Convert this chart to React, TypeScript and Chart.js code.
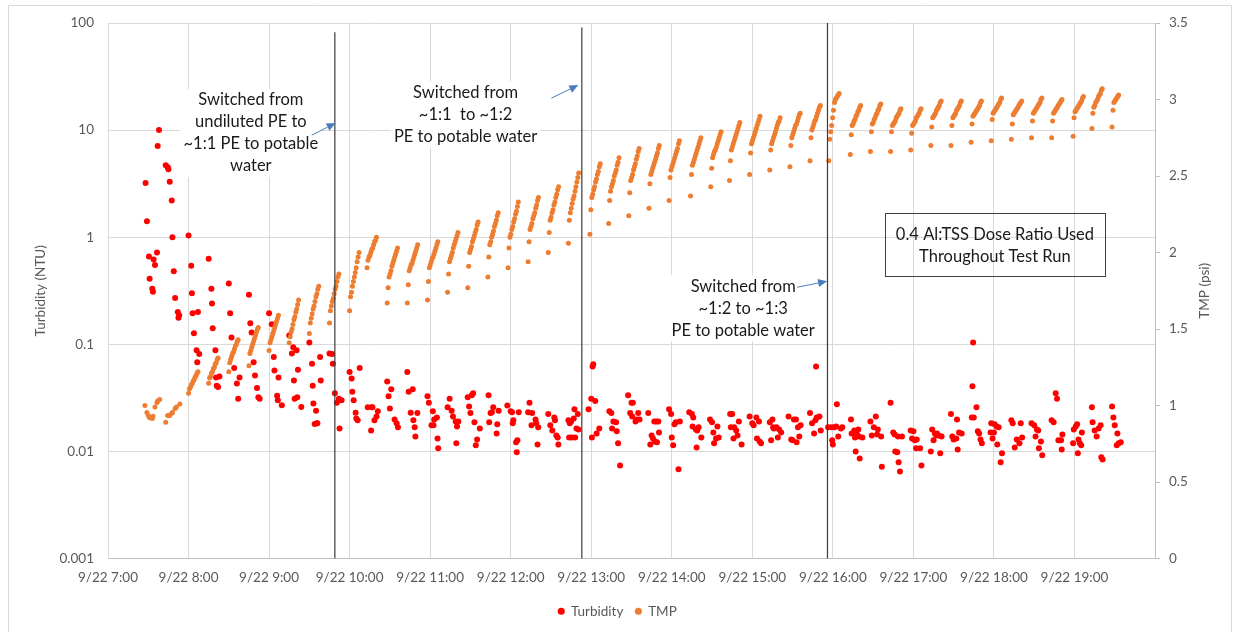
import { useEffect, useRef } from 'react';
import { Chart, registerables } from 'chart.js';

Chart.register(...registerables);

const FONT = 'Lato, "Open Sans", sans-serif';

// ---------- axes ----------
// x values are minutes of the day (9/22)
const xTickValues = [420, 480, 540, 600, 660, 720, 780, 840, 900, 960, 1020, 1080, 1140, 1200];
const xTickLabels = ['9/22 7:00', '9/22 8:00', '9/22 9:00', '9/22 10:00', '9/22 11:00', '9/22 12:00', '9/22 13:00', '9/22 14:00', '9/22 15:00', '9/22 16:00', '9/22 17:00', '9/22 18:00', '9/22 19:00', ''];
const turbTickValues = [0.001, 0.01, 0.1, 1, 10, 100];
const turbTickLabels = ['0.001', '0.01', '0.1', '1', '10', '100'];
const tmpTickValues = [0, 0.5, 1, 1.5, 2, 2.5, 3, 3.5];
const tmpTickLabels = ['0', '0.5', '1', '1.5', '2', '2.5', '3', '3.5'];

// ---------- Turbidity (NTU) ----------
const turbTime = [
  448, 449, 450.5, 451, 453, 453.5, 454, 455, 456.5, 457, 458, 463, 464.5, 465, 466, 467.5, 468, 469, 470, 472, 472.5, 473,
  480, 482, 482.5, 483, 484, 486, 486.5, 487, 488, 495, 497, 497.5, 498, 500, 500.5, 501, 502, 503,
  510, 511, 512, 514, 516, 517, 518, 525, 526, 527, 528.5, 529.5, 531, 532, 533,
  540, 542, 543.5, 544, 546, 546.5, 547, 549.5, 555, 557, 558, 558.5, 559, 560.5, 561, 561.5, 564,
  570, 572, 572.5, 573, 574, 575, 575.5, 576, 578, 578.5, 585, 587, 587.5, 589, 590.5, 592, 592.5, 594,
  600, 601.5, 602, 603, 604.5, 605, 606, 607.5, 613.5, 616.5, 616, 617, 618.5, 620, 621,
  628, 629, 630, 631, 633.5, 635, 636, 643, 644, 645.5, 647, 647.5, 648.5, 649, 650.5,
  658, 659, 661, 662, 662.5, 663, 665, 665.5, 666, 673, 674.5, 676, 677, 679, 679.5, 680, 681,
  688, 689, 690, 691, 692, 693, 694, 695, 697, 703.5, 704, 705, 706, 707, 709.5, 710, 711,
  717.5, 720, 721, 721.5, 722, 724, 724.5, 725, 726, 733, 734, 735.5, 736, 738.5, 739, 740, 740.5,
  748, 749.5, 751, 752.5, 753, 754, 755, 755.5, 763, 763.5, 764, 765, 765.5, 767, 767.5, 768, 769, 770, 770.5,
  778, 780, 780.5, 781, 781.5, 783, 784, 786, 793.5, 795, 795.5, 796.5, 798.5, 799, 800, 801.5,
  807.5, 809, 810, 810.5, 811, 813, 814, 815, 816, 822.5, 824, 825, 826, 827, 827.5, 828.5, 829, 830, 830.5,
  838, 839.5, 840, 841, 842, 843, 845, 846, 853, 855, 855.5, 856, 858, 858.5, 859, 860, 862,
  868.5, 870, 871, 871.5, 873, 874, 875, 883.5, 884, 885, 886, 886.5, 888, 889, 890, 892,
  898, 900, 901, 903, 903.5, 905, 905.5, 906.5, 913, 914, 915, 915.5, 916, 918, 919, 920, 921.5,
  927, 929, 930, 931, 932.5, 933, 934, 935, 936, 943, 944.5, 946, 947, 947.5, 948, 950, 951,
  956.5, 959, 959.5, 960, 961, 962.5, 963, 964, 966, 967, 973.5, 974, 976, 976.5, 977, 978, 979, 979.5, 980, 982,
  988, 989, 990.5, 992, 993, 993.5, 996, 996.5, 1003, 1005, 1006, 1006.5, 1008, 1008.5, 1009, 1010, 1011.5,
  1018, 1019, 1020, 1021, 1022, 1022.5, 1025, 1026, 1033, 1034, 1035, 1036, 1037, 1037.5, 1039, 1040, 1041,
  1048, 1049, 1050, 1052, 1052.5, 1053, 1054, 1056, 1063.5, 1064, 1064.5, 1065, 1067, 1068, 1069, 1070, 1071,
  1077.5, 1078, 1079, 1080, 1080.5, 1082, 1082.5, 1083.5, 1085, 1086, 1093, 1094, 1095.5, 1097, 1099, 1100, 1101,
  1108, 1110, 1111, 1112, 1113, 1113.5, 1115, 1116, 1123, 1124.5, 1126, 1127, 1128, 1130, 1130.5, 1131,
  1139, 1139.5, 1141, 1142, 1142.5, 1143, 1144, 1145, 1145.5, 1153, 1153.5, 1155, 1156.5, 1158, 1159.5, 1160, 1161,
  1168, 1169, 1170, 1171.5, 1172, 1173, 1174.5,
];
const turbValue = [
  3.2, 1.41, 0.66, 0.41, 0.33, 0.31, 0.62, 0.55, 0.72, 7.1, 10.0, 4.7, 4.5, 4.3, 3.3, 2.2, 1.0, 0.48, 0.27, 0.2, 0.177, 0.187,
  1.04, 0.54, 0.30, 0.195, 0.127, 0.088, 0.068, 0.2, 0.081, 0.63, 0.33, 0.24, 0.141, 0.088, 0.049, 0.041, 0.040, 0.050,
  0.37, 0.195, 0.116, 0.060, 0.043, 0.031, 0.049, 0.29, 0.157, 0.129, 0.068, 0.051, 0.039, 0.032, 0.031,
  0.195, 0.154, 0.076, 0.057, 0.033, 0.030, 0.049, 0.027, 0.121, 0.082, 0.094, 0.046, 0.031, 0.088, 0.032, 0.058, 0.026,
  0.104, 0.066, 0.041, 0.028, 0.018, 0.024, 0.0183, 0.0183, 0.076, 0.046, 0.082, 0.081, 0.066, 0.035, 0.0285, 0.031, 0.0164, 0.030,
  0.055, 0.048, 0.036, 0.030, 0.023, 0.0203, 0.0195, 0.060, 0.0258, 0.0258, 0.0157, 0.0258, 0.0195, 0.0212, 0.0237,
  0.045, 0.0327, 0.0252, 0.038, 0.0199, 0.0183, 0.0168, 0.055, 0.036, 0.023, 0.038, 0.0195, 0.0168, 0.0138, 0.0228,
  0.0327, 0.0285, 0.0175, 0.0237, 0.0175, 0.0199, 0.0207, 0.0132, 0.0107, 0.0258, 0.031, 0.024, 0.0212, 0.019, 0.0119, 0.0171, 0.019,
  0.032, 0.0263, 0.0228, 0.0334, 0.035, 0.0187, 0.0114, 0.0129, 0.0164, 0.0334, 0.0187, 0.0228, 0.0232, 0.0258, 0.0147, 0.0179, 0.024,
  0.0268, 0.0237, 0.0232, 0.0183, 0.0195, 0.0122, 0.0098, 0.0127, 0.0232, 0.0232, 0.0285, 0.0175, 0.0228, 0.0199, 0.0183, 0.0116, 0.0168,
  0.0223, 0.0175, 0.0157, 0.0207, 0.0195, 0.0141, 0.0135, 0.0116, 0.0195, 0.0135, 0.0183, 0.019, 0.0135, 0.0203, 0.0247, 0.0135, 0.0164, 0.0223, 0.016,
  0.0247, 0.031, 0.0135, 0.0622, 0.065, 0.0296, 0.0147, 0.0164, 0.0237, 0.0228, 0.0164, 0.019, 0.0187, 0.0154, 0.0119, 0.0074,
  0.0334, 0.0228, 0.0285, 0.0212, 0.0285, 0.019, 0.0199, 0.0228, 0.0199, 0.0228, 0.0116, 0.0141, 0.0132, 0.019, 0.0124, 0.019, 0.0122, 0.019, 0.0150,
  0.0247, 0.0223, 0.0135, 0.0114, 0.0179, 0.0187, 0.0068, 0.019, 0.0232, 0.0223, 0.0171, 0.0207, 0.016, 0.0109, 0.0157, 0.0168, 0.0135,
  0.0199, 0.0187, 0.015, 0.0119, 0.0132, 0.0171, 0.0135, 0.0223, 0.0168, 0.0223, 0.0132, 0.0168, 0.0157, 0.0141, 0.019, 0.0116,
  0.0212, 0.0183, 0.0175, 0.0207, 0.0132, 0.019, 0.0124, 0.0119, 0.0187, 0.0127, 0.0199, 0.0168, 0.0164, 0.0168, 0.0135, 0.016, 0.015,
  0.0212, 0.0129, 0.0127, 0.0199, 0.0199, 0.0122, 0.0168, 0.0138, 0.0175, 0.0228, 0.0183, 0.0147, 0.0195, 0.0622, 0.0207, 0.0212, 0.0157,
  0.0168, 0.0168, 0.0127, 0.0116, 0.0168, 0.0171, 0.0275, 0.0138, 0.0164, 0.0168, 0.0199, 0.0147, 0.0157, 0.0135, 0.010, 0.0144, 0.016, 0.0138, 0.0086, 0.0135,
  0.019, 0.0141, 0.0168, 0.0212, 0.0144, 0.016, 0.0138, 0.0072, 0.0285, 0.015, 0.0144, 0.010, 0.0098, 0.0138, 0.0079, 0.0065, 0.0138,
  0.0157, 0.0132, 0.0154, 0.0127, 0.0107, 0.0129, 0.0107, 0.0074, 0.010, 0.016, 0.0127, 0.0147, 0.0141, 0.0147, 0.0141, 0.0096, 0.0138,
  0.0223, 0.0138, 0.0129, 0.0132, 0.0199, 0.0104, 0.015, 0.0147, 0.0207, 0.0405, 0.104, 0.0207, 0.0258, 0.0154, 0.0147, 0.0129, 0.0119,
  0.015, 0.0183, 0.0132, 0.015, 0.0179, 0.0171, 0.0116, 0.0168, 0.0079, 0.0096, 0.0195, 0.0183, 0.0109, 0.0129, 0.0119, 0.0183, 0.0135,
  0.0183, 0.0175, 0.0138, 0.016, 0.0157, 0.0107, 0.0124, 0.0092, 0.0195, 0.0187, 0.035, 0.031, 0.0127, 0.0127, 0.0104, 0.0144,
  0.0119, 0.016, 0.0171, 0.0179, 0.0096, 0.0129, 0.0119, 0.0114, 0.015, 0.0258, 0.0187, 0.0157, 0.0138, 0.0164, 0.0175, 0.0088, 0.0084,
  0.0263, 0.0207, 0.0175, 0.0114, 0.0147, 0.0119, 0.0122,
];

// ---------- TMP (psi) ----------
// readings before the first filtration cycle
const tmpEarlyTime = [447.5, 449, 450, 451, 453, 453.5, 455, 456.5, 457, 458.5, 463, 464.5, 466, 467.5, 468, 470, 471, 473.5];
const tmpEarlyValue = [1.0, 0.955, 0.935, 0.92, 0.915, 0.93, 0.99, 1.02, 1.03, 1.04, 0.89, 0.935, 0.935, 0.95, 0.955, 0.98, 0.99, 1.01];
// filtration cycles: start minute and the readings logged in that cycle (one every TMP_SAMPLE_MIN)
const TMP_SAMPLE_MIN = 0.7;
const tmpCycleStart = [
  480, 495, 510, 525, 540, 555, 570, 585, 600, 613, 628, 643, 658, 673, 688, 703, 718, 733, 748, 763, 779, 793, 808, 823,
  838, 854, 869, 883, 898, 913, 928, 943, 957, 973, 988, 1003, 1018, 1033, 1048, 1063, 1078, 1093, 1108, 1123, 1139, 1153, 1168,
];
const tmpCycleValues = [
  [1.08, 1.11, 1.12, 1.135, 1.145, 1.16, 1.17, 1.185, 1.195, 1.21, 1.22],
  [1.145, 1.18, 1.19, 1.21, 1.22, 1.24, 1.25, 1.27, 1.28, 1.3, 1.31],
  [1.22, 1.28, 1.3, 1.32, 1.34, 1.35, 1.37, 1.39, 1.4, 1.42, 1.43],
  [1.26, 1.34, 1.36, 1.38, 1.4, 1.42, 1.44, 1.46, 1.48, 1.5, 1.51],
  [1.36, 1.41, 1.43, 1.45, 1.47, 1.49, 1.51, 1.53, 1.55, 1.57, 1.59],
  [1.41, 1.45, 1.48, 1.5, 1.53, 1.56, 1.58, 1.61, 1.63, 1.66, 1.69],
  [1.47, 1.54, 1.57, 1.6, 1.63, 1.65, 1.68, 1.71, 1.73, 1.76, 1.78],
  [1.54, 1.62, 1.65, 1.68, 1.7, 1.73, 1.76, 1.78, 1.81, 1.84, 1.86],
  [1.62, 1.71, 1.74, 1.78, 1.81, 1.84, 1.87, 1.9, 1.94, 1.97, 2.0],
  [1.9, 1.95, 1.97, 1.98, 2.0, 2.02, 2.03, 2.05, 2.07, 2.08, 2.1],
  [1.67, 1.77, 1.84, 1.86, 1.88, 1.91, 1.93, 1.95, 1.97, 1.99, 2.01, 2.03],
  [1.67, 1.79, 1.88, 1.9, 1.92, 1.93, 1.95, 1.97, 1.99, 2.01, 2.03, 2.05],
  [1.69, 1.81, 1.9, 1.92, 1.94, 1.96, 1.97, 1.99, 2.01, 2.03, 2.05, 2.07],
  [1.74, 1.86, 1.94, 1.96, 1.98, 2.0, 2.03, 2.05, 2.07, 2.09, 2.11, 2.13],
  [1.77, 1.91, 2.0, 2.02, 2.04, 2.07, 2.09, 2.11, 2.13, 2.15, 2.18, 2.2],
  [1.84, 1.97, 2.05, 2.07, 2.1, 2.12, 2.14, 2.17, 2.19, 2.21, 2.24, 2.26],
  [1.9, 2.03, 2.1, 2.12, 2.15, 2.17, 2.2, 2.22, 2.25, 2.27, 2.3, 2.33],
  [1.94, 2.07, 2.15, 2.17, 2.19, 2.22, 2.24, 2.26, 2.29, 2.31, 2.34, 2.36],
  [2.0, 2.13, 2.21, 2.23, 2.26, 2.28, 2.31, 2.33, 2.36, 2.38, 2.41, 2.43],
  [2.06, 2.21, 2.26, 2.29, 2.32, 2.35, 2.37, 2.4, 2.43, 2.46, 2.49, 2.52],
  [2.12, 2.28, 2.36, 2.38, 2.41, 2.43, 2.46, 2.48, 2.51, 2.53, 2.56, 2.58],
  [2.19, 2.34, 2.4, 2.43, 2.45, 2.47, 2.5, 2.52, 2.54, 2.57, 2.59, 2.62],
  [2.24, 2.39, 2.47, 2.49, 2.51, 2.54, 2.56, 2.58, 2.61, 2.63, 2.66, 2.68],
  [2.29, 2.45, 2.51, 2.53, 2.55, 2.57, 2.59, 2.61, 2.63, 2.65, 2.68, 2.7],
  [2.34, 2.49, 2.54, 2.56, 2.58, 2.6, 2.62, 2.64, 2.66, 2.68, 2.71, 2.73],
  [2.37, 2.51, 2.57, 2.59, 2.61, 2.63, 2.65, 2.67, 2.69, 2.71, 2.73, 2.75],
  [2.43, 2.55, 2.62, 2.64, 2.66, 2.67, 2.69, 2.71, 2.73, 2.75, 2.77, 2.79],
  [2.47, 2.6, 2.67, 2.69, 2.71, 2.73, 2.75, 2.77, 2.79, 2.81, 2.83, 2.85],
  [2.51, 2.65, 2.71, 2.73, 2.75, 2.77, 2.79, 2.81, 2.83, 2.85, 2.87, 2.89],
  [2.54, 2.67, 2.71, 2.73, 2.75, 2.77, 2.79, 2.81, 2.83, 2.85, 2.86, 2.88],
  [2.56, 2.7, 2.75, 2.77, 2.79, 2.81, 2.83, 2.84, 2.86, 2.88, 2.9, 2.91],
  [2.6, 2.75, 2.8, 2.82, 2.84, 2.86, 2.87, 2.89, 2.91, 2.93, 2.95, 2.96],
  [2.6, 2.74, 2.79, 2.83, 2.88, 2.93, 2.98, 3.0, 3.01, 3.02, 3.03, 3.04],
  [2.64, 2.77, 2.83, 2.84, 2.86, 2.87, 2.89, 2.9, 2.92, 2.93, 2.95, 2.96],
  [2.66, 2.79, 2.84, 2.85, 2.87, 2.88, 2.9, 2.91, 2.93, 2.94, 2.96, 2.97],
  [2.66, 2.79, 2.83, 2.84, 2.85, 2.86, 2.88, 2.89, 2.9, 2.91, 2.93, 2.94],
  [2.67, 2.78, 2.83, 2.84, 2.85, 2.86, 2.88, 2.89, 2.9, 2.91, 2.93, 2.94],
  [2.7, 2.82, 2.88, 2.89, 2.9, 2.91, 2.93, 2.94, 2.95, 2.96, 2.98, 2.99],
  [2.7, 2.83, 2.88, 2.89, 2.9, 2.91, 2.93, 2.94, 2.95, 2.96, 2.98, 2.99],
  [2.72, 2.84, 2.89, 2.9, 2.91, 2.92, 2.93, 2.94, 2.95, 2.96, 2.98, 2.99],
  [2.73, 2.87, 2.91, 2.92, 2.93, 2.94, 2.95, 2.96, 2.97, 2.98, 3.0, 3.01],
  [2.74, 2.84, 2.9, 2.91, 2.92, 2.93, 2.94, 2.95, 2.96, 2.97, 2.98, 2.99],
  [2.75, 2.86, 2.91, 2.92, 2.93, 2.94, 2.95, 2.96, 2.97, 2.98, 3.0, 3.01],
  [2.75, 2.86, 2.91, 2.92, 2.93, 2.94, 2.95, 2.96, 2.97, 2.98, 2.99, 3.0],
  [2.76, 2.88, 2.92, 2.93, 2.94, 2.95, 2.96, 2.97, 2.98, 2.99, 3.01, 3.02],
  [2.81, 2.91, 2.95, 2.96, 2.98, 2.99, 3.0, 3.02, 3.03, 3.04, 3.06, 3.07],
  [2.82, 2.93, 2.98, 2.99, 3.0, 3.01, 3.02, 3.03],
];

// ---------- feed dilution switches (vertical lines, TMP axis units) ----------
const switchTimes = [589, 773, 956];
const switchTops = [3.44, 3.47, 3.5];

// ---------- annotations (data coordinates: minute of day, psi) ----------
const annotationTexts = [
  { x: 526.4, y: 2.996, lines: ['Switched from', 'undiluted PE to', '~1:1 PE to potable', 'water'] },
  { x: 686.4, y: 3.047, lines: ['Switched from', '~1:1  to ~1:2', 'PE to potable water'] },
  { x: 893.2, y: 1.779, lines: ['Switched from', '~1:2 to ~1:3', 'PE to potable water'] },
];
const noteBox = { x1: 998.8, x2: 1162.7, y1: 2.255, y2: 1.84, lines: ['0.4 Al:TSS Dose Ratio Used', 'Throughout Test Run'] };
const arrows = [
  { from: [571.8, 2.767], to: [589.6, 2.846] },
  { from: [750.3, 3.009], to: [770.4, 3.094] },
  { from: [933.4, 1.773], to: [955.7, 1.812] },
];

const ANN_FONT = `16.5px ${FONT}`;
const ANN_LINE = 22;

const extrasPlugin = {
  id: 'extras',
  beforeDraw(chart: any) {
    const { ctx, width, height } = chart;
    ctx.save();
    ctx.fillStyle = '#ffffff';
    ctx.fillRect(0, 0, width, height);
    ctx.strokeStyle = '#d9d9d9';
    ctx.lineWidth = 1;
    ctx.beginPath();
    ctx.moveTo(8.5, height);
    ctx.lineTo(8.5, 5.5);
    ctx.lineTo(1231.5, 5.5);
    ctx.lineTo(1231.5, height);
    ctx.stroke();
    ctx.restore();
  },
  beforeDatasetsDraw(chart: any) {
    const { ctx } = chart;
    const xs = chart.scales.x;
    const ys = chart.scales.y1;
    ctx.save();
    ctx.font = ANN_FONT;
    ctx.fillStyle = '#ffffff';
    annotationTexts.forEach((a) => {
      const cx = xs.getPixelForValue(a.x);
      const cy = ys.getPixelForValue(a.y);
      const w = Math.max(...a.lines.map((l) => ctx.measureText(l).width));
      ctx.fillRect(cx - w / 2 - 3, cy - ANN_LINE / 2, w + 6, ANN_LINE * a.lines.length);
    });
    ctx.restore();
  },
  afterDatasetsDraw(chart: any) {
    const { ctx } = chart;
    const xs = chart.scales.x;
    const ys = chart.scales.y1;
    ctx.save();
    ctx.font = ANN_FONT;
    ctx.fillStyle = '#1a1a1a';
    ctx.textAlign = 'center';
    ctx.textBaseline = 'middle';
    annotationTexts.forEach((a) => {
      const cx = xs.getPixelForValue(a.x);
      const cy = ys.getPixelForValue(a.y);
      a.lines.forEach((l, i) => ctx.fillText(l, cx, cy + i * ANN_LINE));
    });
    // note box
    const bx1 = xs.getPixelForValue(noteBox.x1);
    const bx2 = xs.getPixelForValue(noteBox.x2);
    const by1 = ys.getPixelForValue(noteBox.y1);
    const by2 = ys.getPixelForValue(noteBox.y2);
    ctx.strokeStyle = '#404040';
    ctx.lineWidth = 1;
    ctx.strokeRect(Math.round(bx1) + 0.5, Math.round(by1) + 0.5, Math.round(bx2 - bx1), Math.round(by2 - by1));
    const bcx = (bx1 + bx2) / 2;
    const bcy = (by1 + by2) / 2;
    noteBox.lines.forEach((l, i) => ctx.fillText(l, bcx, bcy + (i - (noteBox.lines.length - 1) / 2) * ANN_LINE));
    // arrows
    ctx.strokeStyle = '#4a7ebb';
    ctx.fillStyle = '#4a7ebb';
    arrows.forEach((a) => {
      const x0 = xs.getPixelForValue(a.from[0]);
      const y0 = ys.getPixelForValue(a.from[1]);
      const x1 = xs.getPixelForValue(a.to[0]);
      const y1 = ys.getPixelForValue(a.to[1]);
      const ang = Math.atan2(y1 - y0, x1 - x0);
      const L = 9;
      const W = 4;
      const bx = x1 - L * Math.cos(ang);
      const by = y1 - L * Math.sin(ang);
      ctx.beginPath();
      ctx.moveTo(x0, y0);
      ctx.lineTo(bx, by);
      ctx.lineWidth = 1;
      ctx.stroke();
      ctx.beginPath();
      ctx.moveTo(x1, y1);
      ctx.lineTo(bx + W * Math.sin(ang), by - W * Math.cos(ang));
      ctx.lineTo(bx - W * Math.sin(ang), by + W * Math.cos(ang));
      ctx.closePath();
      ctx.fill();
    });
    ctx.restore();
  },
  afterDraw(chart: any) {
    const { ctx, chartArea } = chart;
    const midY = (chartArea.top + chartArea.bottom) / 2;
    ctx.save();
    ctx.font = `13.5px ${FONT}`;
    ctx.fillStyle = '#595959';
    ctx.textAlign = 'center';
    ctx.textBaseline = 'middle';
    ctx.translate(41, midY);
    ctx.rotate(-Math.PI / 2);
    ctx.fillText('Turbidity (NTU)', 0, 0);
    ctx.restore();
    ctx.save();
    ctx.font = `13.5px ${FONT}`;
    ctx.fillStyle = '#595959';
    ctx.textAlign = 'center';
    ctx.textBaseline = 'middle';
    ctx.translate(1205, midY);
    ctx.rotate(-Math.PI / 2);
    ctx.fillText('TMP (psi)', 0, 0);
    ctx.restore();
  },
};

export default function App() {
  const ref = useRef<HTMLCanvasElement | null>(null);

  useEffect(() => {
    if (!ref.current) return;
    const turbPoints = turbTime.map((t, i) => ({ x: t, y: turbValue[i] }));
    const tmpPoints: { x: number; y: number }[] = tmpEarlyTime.map((t, i) => ({ x: t, y: tmpEarlyValue[i] }));
    tmpCycleStart.forEach((s, c) => {
      tmpCycleValues[c].forEach((v, i) => tmpPoints.push({ x: s + i * TMP_SAMPLE_MIN, y: v }));
    });
    const lineSets = switchTimes.map((t, i) => ({
      label: 'switch' + i,
      data: [{ x: t, y: 0 }, { x: t, y: switchTops[i] }],
      yAxisID: 'y1',
      showLine: true,
      borderColor: '#3a3a3a',
      borderWidth: 1.2,
      pointRadius: 0,
      order: 0,
    }));
    const tickFont = { family: FONT, size: 13.5 };
    const chart = new Chart(ref.current, {
      type: 'scatter',
      data: {
        datasets: [
          {
            label: 'Turbidity',
            data: turbPoints,
            yAxisID: 'y',
            backgroundColor: '#ff0000',
            borderWidth: 0,
            pointRadius: 3,
            pointStyle: 'circle',
            order: 2,
          },
          {
            label: 'TMP',
            data: tmpPoints,
            yAxisID: 'y1',
            backgroundColor: '#ed7d31',
            borderWidth: 0,
            pointRadius: 2.5,
            pointStyle: 'circle',
            order: 1,
          },
          ...lineSets,
        ] as any,
      },
      options: {
        animation: false,
        responsive: false,
        devicePixelRatio: 1,
        layout: { padding: { left: 0, right: 0, top: 23, bottom: 4 } },
        scales: {
          x: {
            type: 'linear',
            min: 420,
            max: 1200,
            afterBuildTicks: (s: any) => {
              s.ticks = xTickValues.map((v) => ({ value: v }));
            },
            afterFit: (s: any) => {
              s.height = 34;
            },
            ticks: {
              callback: (_v: any, i: number) => xTickLabels[i] ?? '',
              font: tickFont,
              color: '#595959',
              padding: 11,
              maxRotation: 0,
              autoSkip: false,
            },
            grid: { color: '#d9d9d9', drawTicks: false },
            border: { color: '#bfbfbf' },
          },
          y: {
            type: 'logarithmic',
            position: 'left',
            min: 0.001,
            max: 100,
            afterBuildTicks: (s: any) => {
              s.ticks = turbTickValues.map((v) => ({ value: v, major: true }));
            },
            afterFit: (s: any) => {
              s.width = 108;
            },
            ticks: {
              callback: (_v: any, i: number) => turbTickLabels[i] ?? '',
              font: tickFont,
              color: '#595959',
              padding: 14,
              autoSkip: false,
            },
            grid: { color: '#d9d9d9', drawTicks: false },
            border: { color: '#d9d9d9' },
          },
          y1: {
            type: 'linear',
            position: 'right',
            min: 0,
            max: 3.5,
            afterBuildTicks: (s: any) => {
              s.ticks = tmpTickValues.map((v) => ({ value: v }));
            },
            afterFit: (s: any) => {
              s.width = 80;
            },
            ticks: {
              callback: (_v: any, i: number) => tmpTickLabels[i] ?? '',
              font: tickFont,
              color: '#595959',
              padding: 9,
              autoSkip: false,
            },
            grid: { drawOnChartArea: false, drawTicks: true, tickLength: 5, tickColor: '#bfbfbf', color: '#bfbfbf' },
            border: { color: '#bfbfbf' },
          },
        },
        plugins: {
          legend: {
            position: 'bottom',
            labels: {
              usePointStyle: true,
              boxWidth: 6,
              boxHeight: 5,
              padding: 12,
              color: '#595959',
              font: { family: FONT, size: 13.5 },
              filter: (item: any) => item.datasetIndex < 2,
              sort: (a: any, b: any) => a.datasetIndex - b.datasetIndex,
            },
          },
          tooltip: { enabled: false },
        },
      },
      plugins: [extrasPlugin],
    });
    return () => chart.destroy();
  }, []);

  return (
    <div style={{ position: 'fixed', left: 0, top: 0, width: 1235, height: 632, background: '#fff' }}>
      <canvas ref={ref} width={1235} height={632} style={{ width: 1235, height: 632, display: 'block' }} />
    </div>
  );
}
